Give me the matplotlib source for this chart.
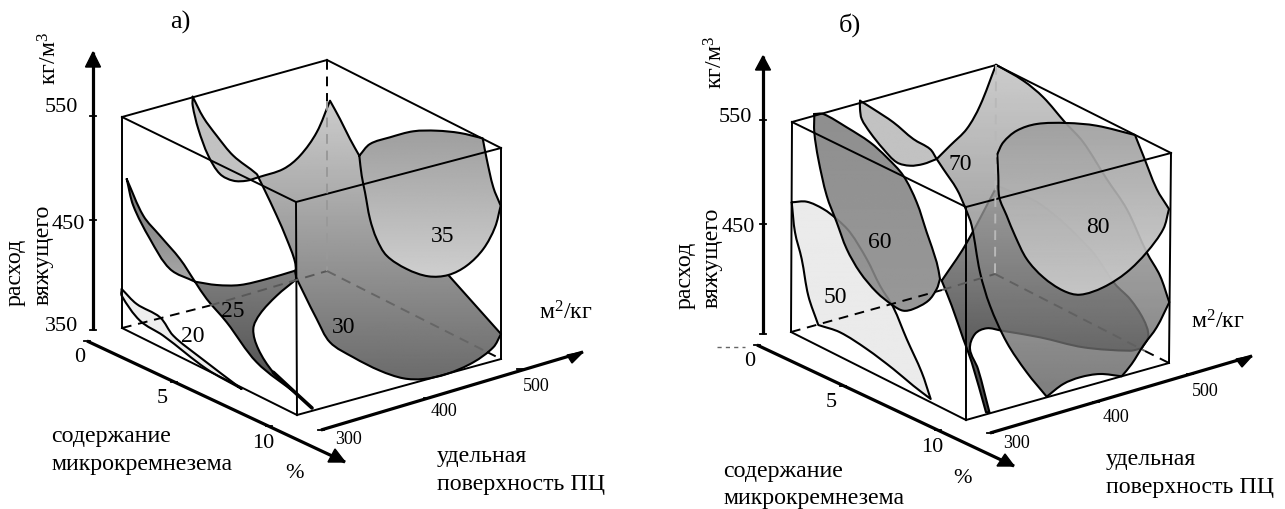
import numpy as np
import matplotlib
matplotlib.use("Agg")
import matplotlib.pyplot as plt
from matplotlib.patches import PathPatch
from matplotlib.path import Path

plt.rcParams["font.family"] = ["Liberation Serif", "DejaVu Serif"]
plt.rcParams["mathtext.fontset"] = "custom"
plt.rcParams["mathtext.rm"] = "Liberation Serif"
plt.rcParams["mathtext.default"] = "rm"

# everything below is in picture pixels
# each surface outline is a list of curve pieces, corners sit between the pieces

# panel a
a_s20 = [
    [(121.7, 290), (136.7, 305), (160, 318.3), (173.3, 336.7), (200, 358.3), (241.7, 390)],
    [(241.7, 390), (206.7, 370), (163.3, 336.7), (140, 321.7), (121.7, 296.7), (121.7, 290)],
]
a_s25_sliver = [
    [(126.7, 180), (143.3, 216.7), (160, 236.7), (180, 260), (195, 282.7)],
    [(195, 282.7), (170, 270), (150, 240), (133.3, 206.7), (126.7, 180)],
]
a_s25 = [
    [(195, 282.7), (216.7, 286), (240, 286), (266.7, 280), (295, 271.7)],
    [(295, 271.7), (296.7, 280)],
    [(296.7, 280), (276.7, 296.7), (260, 315), (253.3, 330), (258.3, 350), (273.3, 373.3), (296.7, 395)],
    [(296.7, 395), (256.7, 363.3), (226.7, 323.3), (206.7, 300), (195, 282.7)],
]
a_s25_tail = [(295, 271.7), (310, 262), (322, 253), (330, 245.7)]
a_s25_thick = [(273.3, 373.3), (296.7, 395), (312, 409)]
a_lobe = [
    [(192.7, 97.7), (203.3, 118.3), (216.7, 136.7), (233.3, 156.7), (256.7, 175), (258.3, 178.3)],
    [(258.3, 178.3), (246.7, 181.7), (233.3, 181.7), (220, 175), (208.3, 156.7), (198.3, 130),
     (192.7, 106.7), (192.7, 97.7)],
]
a_s30 = [
    [(258.3, 178.3), (283.3, 170), (300, 156.7), (316.7, 133.3), (330, 101.7)],
    [(330, 101.7), (340, 120), (350, 140), (359.3, 156.7)],
    [(359.3, 156.7), (448.3, 276)],
    [(448.3, 276), (501, 335)],
    [(501, 335), (493.3, 348.3), (473.3, 363.3), (446.7, 375), (423.3, 380), (403.3, 379.3),
     (380, 371.7), (353.3, 358.3), (330, 343.3), (316.7, 320), (305, 296.7), (296, 278.3)],
    [(296, 278.3), (295, 263), (286.7, 240), (276.7, 216.7), (263.3, 188.3), (258.3, 178.3)],
]
a_s35 = [
    [(359.3, 156.7), (370, 145), (390, 138.3), (413.3, 132.3), (436.7, 131.7), (460, 134), (482.7, 139.3)],
    [(482.7, 139.3), (486.7, 160), (493.3, 188.3), (500.7, 206.7)],
    [(500.7, 206.7), (495, 228.3), (483.3, 250), (466.7, 266.7), (448.3, 276), (428.3, 277.3),
     (406.7, 270), (386.7, 256.7), (376.7, 240), (370, 220), (365, 193.3), (361.7, 176.7), (359.3, 156.7)],
]

# panel b
b_s50 = [
    [(791.7, 203.3), (795, 233.3), (801.7, 260), (808.3, 296.7), (818.3, 326)],
    [(818.3, 326), (840, 333.3), (866.7, 350), (893.3, 370), (913.3, 386.7), (930.7, 400)],
    [(930.7, 400), (921.7, 373.3), (906.7, 340), (893.3, 308.3), (880, 286.7), (866.7, 260),
     (850, 233.3), (836.7, 220), (823.3, 210), (806.7, 202.7), (791.7, 203.3)],
]
b_s60 = [
    [(814.3, 115), (823.3, 115), (846.7, 128.3), (870, 143.3), (886.7, 158.3), (903.3, 176.7),
     (916.7, 203.3), (926.7, 233.3), (936.7, 263.3), (940, 280)],
    [(940, 280), (936.7, 290), (928.3, 301.7), (913.3, 310), (903.3, 311.7), (893.3, 306.7),
     (876.7, 293.3), (860, 273.3), (846.7, 250), (836.7, 223.3), (826.7, 196.7), (818.3, 160),
     (814.3, 133.3), (814.3, 115)],
]
b_lobe = [
    [(860, 101.7), (873.3, 110), (893.3, 123.3), (913.3, 140), (930, 150), (936.7, 160)],
    [(936.7, 160), (923.3, 165), (910, 166.7), (896.7, 163.3), (883.3, 150), (870, 133.3),
     (861.7, 120), (860, 110), (860, 101.7)],
]
b_dark = [
    [(941.7, 281.7), (951.7, 306.7), (963.3, 340), (971.7, 363.3), (986, 413.3)],
    [(986, 413.3), (989.5, 413.3)],
    [(989.5, 413.3), (978, 370), (970, 350), (975, 335), (986.7, 329.3), (1001.7, 331.7),
     (1040, 338.3), (1083.3, 348.3), (1130, 351.7), (1141.7, 349.3)],
    [(1141.7, 349.3), (1148.3, 336.7), (1143.3, 320), (1130, 300), (1115, 285), (1090, 250),
     (1040, 205), (997, 187)],
    [(997, 187), (965, 246.7), (941.7, 281.7)],
]
b_s70 = [
    [(936.7, 160), (950, 146.7), (966.7, 130), (980, 106.7), (996, 65.7)],
    [(996, 65.7), (1023.3, 81.7), (1043.3, 98.3), (1065, 123.3), (1083.3, 143.3), (1106.7, 180),
     (1126.7, 210), (1146.7, 253.3), (1160, 276.7), (1169.3, 303.3)],
    [(1169.3, 303.3), (1156.7, 328.3), (1143.3, 346.7), (1131.7, 365), (1121.7, 377.3)],
    [(1121.7, 377.3), (1100, 375), (1080, 378.3), (1063.3, 385), (1046.7, 397.7)],
    [(1046.7, 397.7), (1026.7, 373.3), (1006.7, 343.3), (990, 306.7), (980, 273.3),
     (971.7, 226.7), (965, 208.3), (956.7, 190), (943.3, 170), (936.7, 160)],
]
b_s80 = [
    [(997.3, 155), (1003.3, 143.3), (1016.7, 131.7), (1036.7, 125), (1066.7, 124), (1096.7, 126.7), (1135, 136)],
    [(1135, 136), (1143.3, 156.7), (1156.7, 190), (1169, 210)],
    [(1169, 210), (1163.3, 230), (1146.7, 253.3), (1126.7, 273.3), (1103.3, 288.3), (1080, 295.7),
     (1063.3, 291.7), (1043.3, 278.3), (1026.7, 260), (1015, 236.7), (1006.7, 216.7), (999.3, 198.3),
     (998.3, 176.7), (997.3, 155)],
]

# cube corners: top left/back/front/right, bottom left/back/front/right
a_cube = [(122, 118), (327, 61), (296, 203), (501, 149), (122, 329), (327, 272), (297, 416), (501, 360)]
b_cube = [(792, 123), (996, 66), (966, 208), (1171, 154), (791, 333), (995, 275), (966, 421), (1169, 364)]

# axes: line start, arrow tip, two arrow base points, tick positions
a_axes = [
    ((93, 331), (93, 53), (85.5, 68), (100.5, 68), [(93, 117), (93, 221), (93, 331)]),
    ((87, 342), (345, 463), (335, 450), (328, 463), [(87, 342), (174, 383), (269, 427)]),
    ((321, 431), (583, 353), (567, 356), (572, 364), [(321, 431), (427, 399), (520, 370)]),
]
b_axes = [
    ((763, 335), (763, 57), (755.5, 71), (770.5, 71), [(763, 121), (763, 225), (763, 335)]),
    ((757, 346), (1014, 467), (1005, 455), (997, 467), [(757, 346), (843, 387), (938, 431)]),
    ((990, 434), (1252, 357), (1236, 360), (1242, 368), [(990, 434), (1096, 403), (1190, 375)]),
]

# text, x, y
a_title = ("а)", 180, 22)
b_title = ("б)", 850, 25)
a_tick_labels = [("550", 61, 108), ("450", 68, 225), ("350", 62, 327), ("0", 80, 358),
                 ("5", 162, 399), ("10", 263, 444), ("%", 295, 474)]
b_tick_labels = [("550", 735, 117), ("450", 738, 228), ("0", 750, 362),
                 ("5", 831, 403), ("10", 932, 448), ("%", 962, 479)]
a_levels = [("20", 193, 337), ("25", 233, 312), ("30", 344, 328), ("35", 443, 237)]
b_levels = [("50", 835, 298), ("60", 880, 243), ("70", 960, 165), ("80", 1098, 228)]
a_small_labels = [("300", 348, 440), ("400", 444, 412), ("500", 536, 387)]
b_small_labels = [("300", 1017, 444), ("400", 1116, 418), ("500", 1205, 392)]
a_left_labels = [("содержание", 51, 437), ("микрокремнезема", 51, 465),
                 ("удельная", 437, 457), ("поверхность ПЦ", 437, 485)]
b_left_labels = [("содержание", 723, 472), ("микрокремнезема", 723, 499),
                 ("удельная", 1106, 460), ("поверхность ПЦ", 1106, 488)]
a_rot_labels = [("кг/м$^3$", 50, 58), ("расход", 15, 272), ("вяжущего", 43, 255)]
b_rot_labels = [("кг/м$^3$", 716, 62), ("расход", 685, 275), ("вяжущего", 712, 258)]
a_unit = ("м$^2$/кг", 566, 313)
b_unit = ("м$^2$/кг", 1218, 322)


def piece_path(pieces):
    # smooth curve through the points of every piece, handles scaled to chord length
    verts = [pieces[0][0]]
    codes = [Path.MOVETO]
    for piece in pieces:
        p = np.array(piece, dtype=float)
        n = len(p)
        tang = np.zeros_like(p)
        for i in range(n):
            d = p[min(i + 1, n - 1)] - p[max(i - 1, 0)]
            tang[i] = d / max(np.hypot(*d), 1e-6)
        for i in range(n - 1):
            L = np.hypot(*(p[i + 1] - p[i]))
            verts += [tuple(p[i] + tang[i] * L / 3), tuple(p[i + 1] - tang[i + 1] * L / 3), tuple(p[i + 1])]
            codes += [Path.CURVE4] * 3
    return Path(verts, codes)


def surface(ax, pieces, top, bottom, z, alpha=1.0, edge="black", lw=1.5):
    path = piece_path(pieces)
    x0, y0 = path.vertices.min(axis=0)
    x1, y1 = path.vertices.max(axis=0)
    grad = np.linspace(top, bottom, 256)[:, None]
    im = ax.imshow(grad, extent=[x0, x1, y1, y0], cmap="gray", vmin=0, vmax=1,
                   aspect="auto", zorder=z, alpha=alpha)
    patch = PathPatch(path, fc="none", ec=edge, lw=lw, zorder=z + 0.1, capstyle="round", joinstyle="round")
    ax.add_patch(patch)
    im.set_clip_path(patch)


def curve(ax, pts, z, color="black", lw=1.5):
    ax.add_patch(PathPatch(piece_path([pts]), fc="none", ec=color, lw=lw, zorder=z, capstyle="round"))


def seg(ax, p, q, color="black", lw=1.4, ls="-"):
    ax.plot([p[0], q[0]], [p[1], q[1]], color=color, lw=lw, ls=ls, zorder=10)


def cube(ax, c):
    tl, tb, tf, tr, bl, bb, bf, br = c
    for p, q in [(tl, tb), (tb, tr), (tl, tf), (tf, tr), (tl, bl), (tf, bf), (tr, br), (bl, bf), (bf, br)]:
        seg(ax, p, q)


def axes3d(ax, spec):
    for start, tip, b1, b2, ticks in spec:
        ax.plot([start[0], tip[0]], [start[1], tip[1]], color="black", lw=2.3, zorder=12, solid_capstyle="butt")
        ax.fill([tip[0], b1[0], b2[0]], [tip[1], b1[1], b2[1]], color="black", zorder=12)
        for t in ticks:
            ax.plot([t[0] - 3, t[0] + 3], [t[1], t[1]], color="black", lw=1.3, zorder=12)


def labels(ax, title, ticks, levels, small, left, rot, unit):
    ax.text(title[1], title[2], title[0], fontsize=19, ha="center", va="center", zorder=20)
    for s, x, y in ticks:
        ax.text(x, y, s, fontsize=16, ha="center", va="center", zorder=20)
    for s, x, y in levels:
        ax.text(x, y, s, fontsize=17, ha="center", va="center", zorder=20)
    for s, x, y in small:
        ax.text(x, y, s, fontsize=13, ha="center", va="center", zorder=20)
    for s, x, y in left:
        ax.text(x, y, s, fontsize=17.2, ha="left", va="center", zorder=20)
    for s, x, y in rot:
        ax.text(x, y, s, fontsize=17.2, rotation=90, ha="center", va="center", zorder=20)
    ax.text(unit[1], unit[2], unit[0], fontsize=17.2, ha="center", va="center", zorder=20)


fig = plt.figure(figsize=(12.85, 5.1), dpi=100)
ax = fig.add_axes([0, 0, 1, 1])

# --- a)
surface(ax, a_s20, 0.93, 0.93, 2)
surface(ax, a_s25_sliver, 0.45, 0.66, 3)
curve(ax, a_s25_tail, 3, color="0.55", lw=2)
surface(ax, a_s25, 0.5, 0.3, 3)
curve(ax, a_s25_thick, 4, lw=2.6)
surface(ax, a_lobe, 0.76, 0.76, 3)
surface(ax, a_s30, 0.8, 0.42, 4)
surface(ax, a_s35, 0.62, 0.81, 5)
cube(ax, a_cube)
seg(ax, a_cube[4], (210, 306.5), ls=(0, (5, 3.5)))
seg(ax, (210, 306.5), a_cube[5], color="0.35", ls=(0, (5, 3.5)))
seg(ax, a_cube[1], (327, 102), ls=(0, (5, 3.5)))
seg(ax, (327, 102), a_cube[5], color="0.6", ls=(0, (5, 3.5)))
seg(ax, a_cube[5], (487, 353), color="0.4", ls=(0, (5, 3.5)))
seg(ax, (487, 353), a_cube[7], ls=(0, (5, 3.5)))
axes3d(ax, a_axes)
labels(ax, a_title, a_tick_labels, a_levels, a_small_labels, a_left_labels, a_rot_labels, a_unit)

# --- б)
surface(ax, b_s50, 0.92, 0.92, 2)
surface(ax, b_s60, 0.5, 0.54, 3, alpha=0.88)
surface(ax, b_lobe, 0.76, 0.76, 3)
surface(ax, b_dark, 0.62, 0.26, 3.5)
surface(ax, b_s70, 0.75, 0.37, 4, alpha=0.8)
surface(ax, b_s80, 0.62, 0.8, 5, alpha=0.92)
cube(ax, b_cube)
seg(ax, b_cube[4], (942, 291), ls=(0, (5, 3.5)))
seg(ax, (942, 291), b_cube[5], color="0.35", ls=(0, (5, 3.5)))
seg(ax, b_cube[1], b_cube[5], color="0.72", ls=(0, (5, 3.5)))
seg(ax, b_cube[5], (1145, 352), color="0.38", ls=(0, (5, 3.5)))
seg(ax, (1145, 352), b_cube[7], ls=(0, (5, 3.5)))
seg(ax, (717, 348), (745, 348), color="0.4", lw=1, ls=(0, (3, 3)))
axes3d(ax, b_axes)
labels(ax, b_title, b_tick_labels, b_levels, b_small_labels, b_left_labels, b_rot_labels, b_unit)

ax.set_xlim(0, 1285)
ax.set_ylim(510, 0)
ax.axis("off")
fig.savefig("out.png", dpi=100)
